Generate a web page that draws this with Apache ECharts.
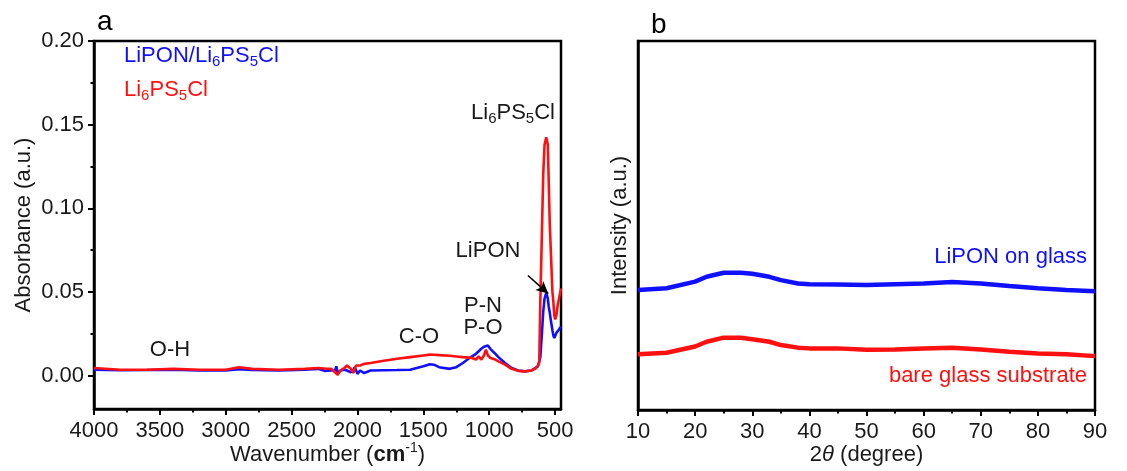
<!DOCTYPE html>
<html><head><meta charset="utf-8">
<script src="https://cdn.jsdelivr.net/npm/echarts@6/dist/echarts.min.js"></script>
<style>html,body{margin:0;padding:0;background:#fff}#c{width:1127px;height:471px}</style>
</head><body><div id="c"></div>
<script>
// ---------- Panel a: FTIR ----------
const ftirWavenumber = [4000,3800,3600,3400,3200,3000,2900,2800,2600,2400,2300,2250,2200,2170,2160,2150,2130,2100,2080,2050,2030,2020,2010,2000,1980,1950,1900,1800,1700,1600,1500,1450,1420,1380,1300,1250,1200,1150,1130,1100,1080,1060,1040,1025,1010,990,960,930,880,830,780,730,680,650,630,620,612,600,590,580,567,555,548,540,532,520,513,506,499,490,480,470,460,455];
const absLiPON = [0.0035,0.0032,0.0033,0.0035,0.0030,0.0030,0.0038,0.0033,0.0030,0.0035,0.0040,0.0028,0.0030,0.0032,0.0055,0.0010,0.0030,0.0035,0.0030,0.0020,0.0035,0.0050,0.0030,0.0010,0.0030,0.0015,0.0030,0.0032,0.0033,0.0035,0.0055,0.0068,0.0065,0.0050,0.0040,0.0050,0.0075,0.0105,0.0115,0.0130,0.0145,0.0160,0.0172,0.0182,0.0180,0.0158,0.0135,0.0110,0.0075,0.0045,0.0030,0.0025,0.0030,0.0045,0.0055,0.0065,0.0110,0.0250,0.0380,0.0460,0.0495,0.0460,0.0410,0.0375,0.0330,0.0270,0.0240,0.0224,0.0235,0.0255,0.0260,0.0275,0.0290,0.0285];
const absLi6PS5Cl = [0.0045,0.0035,0.0035,0.0040,0.0035,0.0035,0.0050,0.0040,0.0035,0.0040,0.0045,0.0042,0.0040,0.0020,0.0015,0.0005,0.0030,0.0045,0.0060,0.0040,0.0015,0.0045,0.0060,0.0055,0.0060,0.0070,0.0075,0.0088,0.0100,0.0110,0.0120,0.0125,0.0124,0.0122,0.0118,0.0114,0.0110,0.0107,0.0105,0.0095,0.0115,0.0095,0.0120,0.0155,0.0120,0.0105,0.0098,0.0085,0.0065,0.0040,0.0028,0.0025,0.0030,0.0042,0.0060,0.0080,0.0440,0.0850,0.1200,0.1380,0.1425,0.1380,0.1150,0.0900,0.0740,0.0500,0.0440,0.0360,0.0336,0.0360,0.0420,0.0460,0.0500,0.0520];
const ftirXTicks = [500,1000,1500,2000,2500,3000,3500,4000];
const ftirXMinor = [750,1250,1750,2250,2750,3250,3750];
const ftirYTicks = [0.00,0.05,0.10,0.15,0.20];
const ftirYMinor = [0.025,0.075,0.125,0.175];

// ---------- Panel b: XRD ----------
const twoTheta = [10,15,20,22,25,28,30,33,35,38,40,45,50,55,60,65,70,75,80,85,90];
const xrdLiPON = [32.5,33.0,34.8,36.1,37.2,37.2,36.9,36.1,35.2,34.3,34.1,34.0,33.9,34.1,34.3,34.7,34.3,33.6,33.0,32.5,32.2];
const xrdGlass = [15.1,15.5,17.2,18.5,19.6,19.6,19.2,18.5,17.6,16.9,16.7,16.7,16.3,16.4,16.7,16.9,16.4,15.8,15.3,15.1,14.6];

const FONT = 'Liberation Sans, Arial, sans-serif';
const BLUE = '#1010ff', RED = '#ff1010', INK = '#1a1a1a';
const FS = 22;
const zip = (a,b) => a.map((v,i)=>[v,b[i]]);

const chart = echarts.init(document.getElementById('c'), null, {renderer:'canvas'});

const baseRich = (color, size) => ({
  n: {fontSize:size, fontFamily:FONT, color:color, lineHeight:25, verticalAlign:'top'},
  s: {fontSize:Math.round(size*0.68), fontFamily:FONT, color:color, lineHeight:15, verticalAlign:'bottom', padding:[13,0,0,0]}
});
const txt = (x,y,text,color,size,align) => ({
  type:'text', x:x, y:y, z:10,
  style:{text:text, fill:color, font: size+'px '+FONT, align:align||'left', verticalAlign:'middle', rich: baseRich(color,size)}
});
const LPSC = '{n|Li}{s|6}{n|PS}{s|5}{n|Cl}';

const axisLineStyle = {color:'#000', width:2.5};
const labelStyle = {color:INK, fontSize:FS, fontFamily:FONT};

chart.setOption({
  animation:false,
  backgroundColor:'#fff',
  grid:[
    {left:94, right:566, top:41, bottom:62, show:true, borderColor:'#000', borderWidth:2.5, outerBoundsMode:'none', containLabel:false},
    {left:638, right:32, top:41, bottom:61, show:true, borderColor:'#000', borderWidth:2.5, outerBoundsMode:'none', containLabel:false}
  ],
  xAxis:[
    {gridIndex:0, type:'value', inverse:true, min:455, max:4000, position:'bottom',
     axisLine:{show:true, onZero:false, lineStyle:axisLineStyle},
     axisTick:{show:true, inside:false, length:6, lineStyle:{width:2,color:'#000'}, customValues:ftirXTicks},
     axisLabel:{...labelStyle, margin:11, customValues:ftirXTicks, formatter:v=>String(Math.round(v))},
     splitLine:{show:false},
     name:'{n|Wavenumber (}{b|cm}{sup|-1}{n|)}', nameLocation:'middle', nameGap:32, nameMoveOverlap:false,
     nameTextStyle:{rich:{
       n:{fontSize:FS, fontFamily:FONT, color:INK, lineHeight:25, verticalAlign:'bottom', padding:[4,0,0,0]},
       b:{fontSize:FS, fontFamily:FONT, color:INK, fontWeight:'bold', lineHeight:25, verticalAlign:'bottom', padding:[4,0,0,0]},
       sup:{fontSize:14, fontFamily:FONT, color:INK, lineHeight:14, verticalAlign:'top'}
     }}},
    {gridIndex:0, type:'value', inverse:true, min:455, max:4000, position:'bottom',
     axisLine:{show:false, onZero:false},
     axisTick:{show:true, inside:false, length:3.5, lineStyle:{width:2,color:'#000'}, customValues:ftirXMinor},
     axisLabel:{show:false}, splitLine:{show:false}},
    {gridIndex:1, type:'value', min:10, max:90, interval:10, position:'bottom',
     axisLine:{show:true, onZero:false, lineStyle:axisLineStyle},
     axisTick:{show:true, length:6, lineStyle:{width:2,color:'#000'}},
     minorTick:{show:true, splitNumber:2, length:3.5, lineStyle:{width:2,color:'#000'}},
     axisLabel:{...labelStyle, margin:11},
     splitLine:{show:false},
     name:'{n|2}{i|θ}{n| (degree)}', nameLocation:'middle', nameGap:34, nameMoveOverlap:false,
     nameTextStyle:{rich:{
       n:{fontSize:FS, fontFamily:FONT, color:INK},
       i:{fontSize:FS, fontFamily:FONT, color:INK, fontStyle:'italic'}
     }}}
  ],
  yAxis:[
    {gridIndex:0, type:'value', min:-0.02, max:0.20, position:'left',
     axisLine:{show:true, onZero:false, lineStyle:axisLineStyle},
     axisTick:{show:true, length:6, lineStyle:{width:2,color:'#000'}, customValues:ftirYTicks},
     axisLabel:{...labelStyle, margin:10, customValues:ftirYTicks, formatter:v=>v.toFixed(2)},
     splitLine:{show:false},
     name:'Absorbance (a.u.)', nameLocation:'middle', nameGap:59,
     nameTextStyle:{fontSize:FS, fontFamily:FONT, color:INK}},
    {gridIndex:0, type:'value', min:-0.02, max:0.20, position:'left',
     axisLine:{show:false, onZero:false},
     axisTick:{show:true, length:3.5, lineStyle:{width:2,color:'#000'}, customValues:ftirYMinor},
     axisLabel:{show:false}, splitLine:{show:false}},
    {gridIndex:1, type:'value', min:0, max:100, position:'left',
     axisLine:{show:true, onZero:false, lineStyle:axisLineStyle},
     axisTick:{show:false}, axisLabel:{show:false}, splitLine:{show:false},
     name:'Intensity (a.u.)', nameLocation:'middle', nameGap:7,
     nameTextStyle:{fontSize:FS, fontFamily:FONT, color:INK}}
  ],
  series:[
    {type:'line', xAxisIndex:0, yAxisIndex:0, data:zip(ftirWavenumber, absLiPON), showSymbol:false,
     lineStyle:{color:BLUE, width:2.6}, itemStyle:{color:BLUE}, silent:true},
    {type:'line', xAxisIndex:0, yAxisIndex:0, data:zip(ftirWavenumber, absLi6PS5Cl), showSymbol:false,
     lineStyle:{color:RED, width:2.6}, itemStyle:{color:RED}, silent:true,
     markLine:{silent:true, symbol:['none','arrow'], symbolSize:[9,12], label:{show:false},
       lineStyle:{color:'#000', width:1.6, type:'solid'},
       data:[[{coord:[706,0.0598]},{coord:[552,0.0490]}]]}},
    {type:'line', xAxisIndex:2, yAxisIndex:2, data:zip(twoTheta, xrdLiPON), showSymbol:false,
     lineStyle:{color:BLUE, width:4.5}, itemStyle:{color:BLUE}, silent:true},
    {type:'line', xAxisIndex:2, yAxisIndex:2, data:zip(twoTheta, xrdGlass), showSymbol:false,
     lineStyle:{color:RED, width:4.5}, itemStyle:{color:RED}, silent:true}
  ],
  graphic:[
    {type:'text', x:97, y:22, style:{text:'a', font:'28px '+FONT, fill:'#000', verticalAlign:'middle'}},
    {type:'text', x:651, y:25, style:{text:'b', font:'28px '+FONT, fill:'#000', verticalAlign:'middle'}},
    txt(124, 57, '{n|LiPON/}'+LPSC, BLUE, FS),
    txt(124, 91, LPSC, RED, FS),
    txt(513, 114, LPSC, INK, FS, 'center'),
    txt(488, 252, '{n|LiPON}', INK, FS, 'center'),
    txt(483, 307, '{n|P-N}', INK, FS, 'center'),
    txt(483, 329, '{n|P-O}', INK, FS, 'center'),
    txt(419, 338, '{n|C-O}', INK, FS, 'center'),
    txt(170, 351, '{n|O-H}', INK, FS, 'center'),
    txt(1087, 258, '{n|LiPON on glass}', BLUE, FS, 'right'),
    txt(1087, 377, '{n|bare glass substrate}', RED, FS, 'right')
  ]
});
</script></body></html>
